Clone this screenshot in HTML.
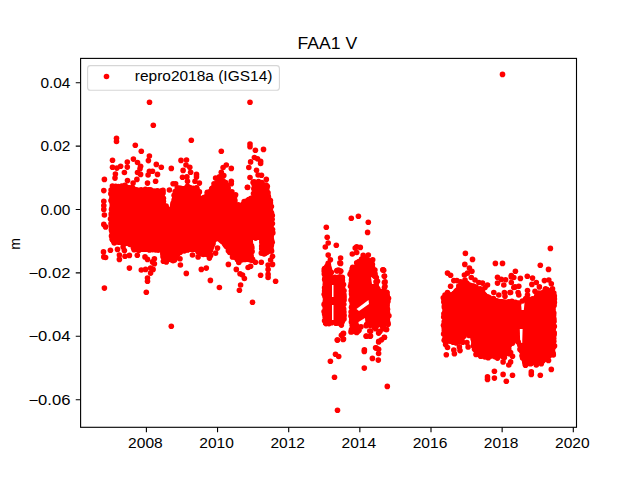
<!DOCTYPE html><html><head><meta charset="utf-8"><style>html,body{margin:0;padding:0;background:#fff;overflow:hidden}svg{display:block}</style></head><body><svg width="640" height="480" viewBox="0 0 640 480">
<rect x="0" y="0" width="640" height="480" fill="#fff"/>
<g fill="#ff0000">
<path d="M109.5 191 L111 185 L125 184 L140 188 L164 189 L166 204 L170 207 L173 193 L177 186 L199 186 L201 196 L205 194 L210 188 L213 183 L221 177 L230 184 L230 191 L236 196 L237.5 203 L241 204 L242.5 200 L252.5 195 L252 185 L255 180 L262 181 L267 184 L268 188 L271 196 L273.5 212 L274 245 L273 252 L266 256 L262 256 L259 240 L253 240 L254 262 L236 262 L217 239 L211 257 L200 256 L195 252 L182 252 L176 262 L162 262 L160 252 L134 252 L130 246 L112 244 L109.5 240 Z"/>
<path d="M322.5 268 L325 264 L331 264 L333 276 L340 274 L345 277 L345.5 300 L345 322 L341 326 L334 324 L330 325 L323 325 Z"/>
<path d="M349 272 L352 266 L356 264 L360 258 L366 256 L372 260 L375 266 L377 272 L379 287 L381 289 L389.5 291 L390 325 L382 327 L364 327 L358 333 L350 333 Z"/>
<path d="M442.5 296 L452 292 L459 284 L466 281 L472 283 L476 285 L484 290 L489 296 L500 299 L521 301 L524 297 L531 298 L540 292 L548 287 L555.6 292 L555.6 344 L555 355 L545 362 L530 366 L523 366 L519 350 L516 340 L512 344 L510 355 L500 358 L485 359 L475 356 L472.5 348 L470 337 L466 336 L463 344 L450 344 L442.5 342 Z"/>
</g>
<g fill="#fff">
<path d="M332 285 L333.5 285 L333.5 297 L332 297 Z"/>
<path d="M332 305 L333.5 305 L333.5 320 L332 320 Z"/>
<path d="M356.5 309 L368.5 300 L369 304 L359 311 Z"/>
<path d="M371 277 L375 279 L375.5 284 L372 284 Z"/>
<path d="M358.5 322 L365 318 L366 331 L358.5 333 Z"/>
<path d="M520.8 300 L524.8 300 L523.8 310 L521.6 310 Z"/>
<path d="M519.8 329 L522.6 329 L522.2 343 L520.2 343 Z"/>
</g>
<g fill="#ff0000">
<circle cx="111.1" cy="190.1" r="2.8"/>
<circle cx="112.4" cy="186.0" r="2.8"/>
<circle cx="115.7" cy="186.4" r="2.8"/>
<circle cx="118.3" cy="186.5" r="2.8"/>
<circle cx="121.7" cy="186.1" r="2.8"/>
<circle cx="124.9" cy="185.2" r="2.8"/>
<circle cx="129.0" cy="187.8" r="2.8"/>
<circle cx="132.4" cy="187.5" r="2.8"/>
<circle cx="136.9" cy="190.2" r="2.8"/>
<circle cx="141.1" cy="189.8" r="2.8"/>
<circle cx="145.4" cy="189.3" r="2.8"/>
<circle cx="148.6" cy="189.9" r="2.8"/>
<circle cx="150.5" cy="189.7" r="2.8"/>
<circle cx="154.2" cy="191.2" r="2.8"/>
<circle cx="157.4" cy="190.9" r="2.8"/>
<circle cx="161.8" cy="190.7" r="2.8"/>
<circle cx="163.0" cy="190.4" r="2.8"/>
<circle cx="163.1" cy="193.1" r="2.8"/>
<circle cx="163.4" cy="198.3" r="2.8"/>
<circle cx="163.4" cy="201.2" r="2.8"/>
<circle cx="166.1" cy="206.1" r="2.8"/>
<circle cx="172.7" cy="205.8" r="2.8"/>
<circle cx="173.0" cy="203.4" r="2.8"/>
<circle cx="174.4" cy="199.5" r="2.8"/>
<circle cx="174.1" cy="195.3" r="2.8"/>
<circle cx="175.2" cy="191.6" r="2.8"/>
<circle cx="177.7" cy="189.9" r="2.8"/>
<circle cx="177.3" cy="188.0" r="2.8"/>
<circle cx="180.8" cy="188.3" r="2.8"/>
<circle cx="186.0" cy="188.1" r="2.8"/>
<circle cx="189.9" cy="187.6" r="2.8"/>
<circle cx="193.2" cy="188.2" r="2.8"/>
<circle cx="196.6" cy="187.9" r="2.8"/>
<circle cx="196.5" cy="188.2" r="2.8"/>
<circle cx="197.6" cy="190.7" r="2.8"/>
<circle cx="198.0" cy="193.3" r="2.8"/>
<circle cx="203.9" cy="197.9" r="2.8"/>
<circle cx="207.4" cy="193.5" r="2.8"/>
<circle cx="209.9" cy="191.8" r="2.8"/>
<circle cx="211.7" cy="188.9" r="2.8"/>
<circle cx="214.0" cy="183.8" r="2.8"/>
<circle cx="217.3" cy="183.0" r="2.8"/>
<circle cx="219.4" cy="180.0" r="2.8"/>
<circle cx="220.0" cy="179.7" r="2.8"/>
<circle cx="223.0" cy="180.9" r="2.8"/>
<circle cx="226.3" cy="184.6" r="2.8"/>
<circle cx="227.3" cy="185.7" r="2.8"/>
<circle cx="228.2" cy="188.1" r="2.8"/>
<circle cx="228.9" cy="193.7" r="2.8"/>
<circle cx="233.9" cy="195.9" r="2.8"/>
<circle cx="234.6" cy="196.7" r="2.8"/>
<circle cx="234.9" cy="200.4" r="2.8"/>
<circle cx="238.3" cy="204.8" r="2.8"/>
<circle cx="242.7" cy="204.6" r="2.8"/>
<circle cx="244.2" cy="201.5" r="2.8"/>
<circle cx="248.8" cy="199.5" r="2.8"/>
<circle cx="251.2" cy="198.2" r="2.8"/>
<circle cx="253.5" cy="193.6" r="2.8"/>
<circle cx="254.8" cy="189.7" r="2.8"/>
<circle cx="254.7" cy="186.5" r="2.8"/>
<circle cx="254.2" cy="184.7" r="2.8"/>
<circle cx="254.9" cy="182.3" r="2.8"/>
<circle cx="258.5" cy="181.6" r="2.8"/>
<circle cx="261.9" cy="182.5" r="2.8"/>
<circle cx="266.1" cy="185.1" r="2.8"/>
<circle cx="266.8" cy="188.5" r="2.8"/>
<circle cx="268.0" cy="192.8" r="2.8"/>
<circle cx="268.3" cy="196.5" r="2.8"/>
<circle cx="270.4" cy="200.6" r="2.8"/>
<circle cx="270.4" cy="203.1" r="2.8"/>
<circle cx="271.4" cy="206.5" r="2.8"/>
<circle cx="270.3" cy="210.9" r="2.8"/>
<circle cx="271.5" cy="213.0" r="2.8"/>
<circle cx="272.3" cy="215.5" r="2.8"/>
<circle cx="272.1" cy="219.3" r="2.8"/>
<circle cx="272.4" cy="223.6" r="2.8"/>
<circle cx="270.8" cy="225.3" r="2.8"/>
<circle cx="272.5" cy="229.6" r="2.8"/>
<circle cx="272.8" cy="232.9" r="2.8"/>
<circle cx="270.9" cy="236.2" r="2.8"/>
<circle cx="271.5" cy="240.1" r="2.8"/>
<circle cx="272.2" cy="242.2" r="2.8"/>
<circle cx="271.4" cy="245.0" r="2.8"/>
<circle cx="270.8" cy="249.3" r="2.8"/>
<circle cx="271.6" cy="251.1" r="2.8"/>
<circle cx="266.3" cy="252.4" r="2.8"/>
<circle cx="264.0" cy="253.4" r="2.8"/>
<circle cx="264.1" cy="254.0" r="2.8"/>
<circle cx="263.3" cy="252.0" r="2.8"/>
<circle cx="261.7" cy="248.7" r="2.8"/>
<circle cx="261.7" cy="246.1" r="2.8"/>
<circle cx="261.9" cy="242.3" r="2.8"/>
<circle cx="255.6" cy="238.1" r="2.8"/>
<circle cx="250.1" cy="242.2" r="2.8"/>
<circle cx="251.5" cy="245.8" r="2.8"/>
<circle cx="251.9" cy="247.9" r="2.8"/>
<circle cx="252.1" cy="251.5" r="2.8"/>
<circle cx="250.9" cy="256.2" r="2.8"/>
<circle cx="252.0" cy="260.3" r="2.8"/>
<circle cx="252.6" cy="259.4" r="2.8"/>
<circle cx="250.2" cy="259.7" r="2.8"/>
<circle cx="244.8" cy="259.4" r="2.8"/>
<circle cx="241.6" cy="260.0" r="2.8"/>
<circle cx="239.2" cy="259.4" r="2.8"/>
<circle cx="237.6" cy="259.8" r="2.8"/>
<circle cx="234.0" cy="256.8" r="2.8"/>
<circle cx="233.5" cy="254.4" r="2.8"/>
<circle cx="229.8" cy="252.4" r="2.8"/>
<circle cx="228.4" cy="250.8" r="2.8"/>
<circle cx="226.3" cy="246.2" r="2.8"/>
<circle cx="225.2" cy="244.8" r="2.8"/>
<circle cx="221.8" cy="241.1" r="2.8"/>
<circle cx="220.3" cy="239.7" r="2.8"/>
<circle cx="215.9" cy="239.0" r="2.8"/>
<circle cx="212.9" cy="244.0" r="2.8"/>
<circle cx="211.5" cy="246.4" r="2.8"/>
<circle cx="210.5" cy="249.9" r="2.8"/>
<circle cx="210.3" cy="254.7" r="2.8"/>
<circle cx="210.6" cy="255.4" r="2.8"/>
<circle cx="207.0" cy="254.5" r="2.8"/>
<circle cx="203.3" cy="254.5" r="2.8"/>
<circle cx="201.6" cy="253.6" r="2.8"/>
<circle cx="198.2" cy="252.1" r="2.8"/>
<circle cx="193.9" cy="249.2" r="2.8"/>
<circle cx="190.9" cy="249.2" r="2.8"/>
<circle cx="187.5" cy="249.9" r="2.8"/>
<circle cx="184.2" cy="251.0" r="2.8"/>
<circle cx="180.3" cy="252.2" r="2.8"/>
<circle cx="177.8" cy="254.0" r="2.8"/>
<circle cx="176.1" cy="258.0" r="2.8"/>
<circle cx="174.5" cy="259.9" r="2.8"/>
<circle cx="171.8" cy="260.0" r="2.8"/>
<circle cx="167.8" cy="259.4" r="2.8"/>
<circle cx="165.3" cy="259.9" r="2.8"/>
<circle cx="163.4" cy="261.2" r="2.8"/>
<circle cx="163.0" cy="256.7" r="2.8"/>
<circle cx="162.9" cy="253.7" r="2.8"/>
<circle cx="158.2" cy="250.1" r="2.8"/>
<circle cx="155.6" cy="250.0" r="2.8"/>
<circle cx="152.5" cy="249.6" r="2.8"/>
<circle cx="149.4" cy="249.9" r="2.8"/>
<circle cx="146.1" cy="249.1" r="2.8"/>
<circle cx="142.4" cy="249.2" r="2.8"/>
<circle cx="138.7" cy="250.5" r="2.8"/>
<circle cx="136.2" cy="249.1" r="2.8"/>
<circle cx="134.1" cy="249.8" r="2.8"/>
<circle cx="133.4" cy="247.7" r="2.8"/>
<circle cx="130.0" cy="244.5" r="2.8"/>
<circle cx="126.5" cy="243.3" r="2.8"/>
<circle cx="121.4" cy="242.2" r="2.8"/>
<circle cx="119.1" cy="242.3" r="2.8"/>
<circle cx="114.3" cy="243.0" r="2.8"/>
<circle cx="113.2" cy="240.3" r="2.8"/>
<circle cx="112.4" cy="239.6" r="2.8"/>
<circle cx="111.5" cy="236.0" r="2.8"/>
<circle cx="112.2" cy="231.5" r="2.8"/>
<circle cx="111.4" cy="229.9" r="2.8"/>
<circle cx="111.2" cy="225.9" r="2.8"/>
<circle cx="111.1" cy="223.3" r="2.8"/>
<circle cx="110.5" cy="219.0" r="2.8"/>
<circle cx="111.4" cy="216.0" r="2.8"/>
<circle cx="111.2" cy="213.8" r="2.8"/>
<circle cx="111.5" cy="209.4" r="2.8"/>
<circle cx="112.5" cy="207.2" r="2.8"/>
<circle cx="112.4" cy="202.5" r="2.8"/>
<circle cx="111.0" cy="200.6" r="2.8"/>
<circle cx="112.1" cy="197.5" r="2.8"/>
<circle cx="110.8" cy="193.7" r="2.8"/>
<circle cx="325.5" cy="268.5" r="2.8"/>
<circle cx="327.9" cy="265.5" r="2.8"/>
<circle cx="328.3" cy="264.8" r="2.8"/>
<circle cx="329.5" cy="269.8" r="2.8"/>
<circle cx="331.3" cy="272.4" r="2.8"/>
<circle cx="335.0" cy="277.4" r="2.8"/>
<circle cx="337.4" cy="277.7" r="2.8"/>
<circle cx="340.6" cy="277.4" r="2.8"/>
<circle cx="342.3" cy="277.2" r="2.8"/>
<circle cx="342.3" cy="280.5" r="2.8"/>
<circle cx="343.5" cy="284.5" r="2.8"/>
<circle cx="342.4" cy="288.0" r="2.8"/>
<circle cx="344.0" cy="290.7" r="2.8"/>
<circle cx="343.9" cy="294.5" r="2.8"/>
<circle cx="344.1" cy="297.0" r="2.8"/>
<circle cx="344.1" cy="300.1" r="2.8"/>
<circle cx="343.8" cy="304.3" r="2.8"/>
<circle cx="343.7" cy="309.0" r="2.8"/>
<circle cx="343.9" cy="312.1" r="2.8"/>
<circle cx="344.1" cy="315.4" r="2.8"/>
<circle cx="344.0" cy="318.9" r="2.8"/>
<circle cx="341.8" cy="322.3" r="2.8"/>
<circle cx="341.1" cy="324.0" r="2.8"/>
<circle cx="335.9" cy="323.3" r="2.8"/>
<circle cx="331.6" cy="322.7" r="2.8"/>
<circle cx="329.0" cy="322.3" r="2.8"/>
<circle cx="325.7" cy="323.0" r="2.8"/>
<circle cx="326.0" cy="323.6" r="2.8"/>
<circle cx="325.6" cy="320.9" r="2.8"/>
<circle cx="325.2" cy="316.9" r="2.8"/>
<circle cx="324.6" cy="314.1" r="2.8"/>
<circle cx="324.1" cy="311.5" r="2.8"/>
<circle cx="325.3" cy="308.1" r="2.8"/>
<circle cx="324.1" cy="304.4" r="2.8"/>
<circle cx="325.5" cy="301.3" r="2.8"/>
<circle cx="325.1" cy="296.4" r="2.8"/>
<circle cx="324.2" cy="294.2" r="2.8"/>
<circle cx="324.6" cy="290.9" r="2.8"/>
<circle cx="324.6" cy="287.8" r="2.8"/>
<circle cx="325.6" cy="284.2" r="2.8"/>
<circle cx="324.7" cy="279.4" r="2.8"/>
<circle cx="325.5" cy="277.5" r="2.8"/>
<circle cx="324.3" cy="274.1" r="2.8"/>
<circle cx="324.3" cy="271.3" r="2.8"/>
<circle cx="351.2" cy="272.0" r="2.8"/>
<circle cx="352.5" cy="269.5" r="2.8"/>
<circle cx="352.7" cy="267.4" r="2.8"/>
<circle cx="357.6" cy="264.8" r="2.8"/>
<circle cx="358.9" cy="261.5" r="2.8"/>
<circle cx="361.6" cy="259.0" r="2.8"/>
<circle cx="365.9" cy="258.4" r="2.8"/>
<circle cx="369.1" cy="260.8" r="2.8"/>
<circle cx="370.2" cy="262.5" r="2.8"/>
<circle cx="372.4" cy="264.4" r="2.8"/>
<circle cx="374.9" cy="270.0" r="2.8"/>
<circle cx="375.0" cy="273.9" r="2.8"/>
<circle cx="374.9" cy="276.2" r="2.8"/>
<circle cx="376.0" cy="281.8" r="2.8"/>
<circle cx="376.1" cy="285.2" r="2.8"/>
<circle cx="377.7" cy="288.6" r="2.8"/>
<circle cx="381.7" cy="291.9" r="2.8"/>
<circle cx="386.7" cy="293.1" r="2.8"/>
<circle cx="386.7" cy="292.2" r="2.8"/>
<circle cx="387.2" cy="295.8" r="2.8"/>
<circle cx="388.5" cy="298.3" r="2.8"/>
<circle cx="387.9" cy="301.5" r="2.8"/>
<circle cx="387.0" cy="304.9" r="2.8"/>
<circle cx="387.5" cy="309.2" r="2.8"/>
<circle cx="387.5" cy="312.7" r="2.8"/>
<circle cx="388.9" cy="315.8" r="2.8"/>
<circle cx="387.4" cy="319.9" r="2.8"/>
<circle cx="387.9" cy="322.7" r="2.8"/>
<circle cx="388.1" cy="324.3" r="2.8"/>
<circle cx="383.9" cy="325.0" r="2.8"/>
<circle cx="381.8" cy="325.5" r="2.8"/>
<circle cx="376.8" cy="325.6" r="2.8"/>
<circle cx="373.2" cy="324.0" r="2.8"/>
<circle cx="370.1" cy="325.2" r="2.8"/>
<circle cx="366.6" cy="324.6" r="2.8"/>
<circle cx="361.0" cy="326.8" r="2.8"/>
<circle cx="359.0" cy="330.3" r="2.8"/>
<circle cx="357.6" cy="331.5" r="2.8"/>
<circle cx="352.2" cy="331.4" r="2.8"/>
<circle cx="351.0" cy="331.9" r="2.8"/>
<circle cx="351.5" cy="329.6" r="2.8"/>
<circle cx="352.3" cy="325.2" r="2.8"/>
<circle cx="351.4" cy="322.0" r="2.8"/>
<circle cx="351.7" cy="319.1" r="2.8"/>
<circle cx="351.0" cy="316.0" r="2.8"/>
<circle cx="351.1" cy="312.0" r="2.8"/>
<circle cx="352.5" cy="308.6" r="2.8"/>
<circle cx="351.5" cy="307.3" r="2.8"/>
<circle cx="352.4" cy="302.5" r="2.8"/>
<circle cx="351.0" cy="300.0" r="2.8"/>
<circle cx="352.3" cy="297.2" r="2.8"/>
<circle cx="351.5" cy="294.0" r="2.8"/>
<circle cx="351.4" cy="291.0" r="2.8"/>
<circle cx="350.5" cy="286.2" r="2.8"/>
<circle cx="351.2" cy="283.2" r="2.8"/>
<circle cx="351.5" cy="279.9" r="2.8"/>
<circle cx="351.9" cy="277.9" r="2.8"/>
<circle cx="350.1" cy="274.3" r="2.8"/>
<circle cx="443.3" cy="297.8" r="2.8"/>
<circle cx="447.1" cy="295.8" r="2.8"/>
<circle cx="449.8" cy="294.8" r="2.8"/>
<circle cx="454.5" cy="293.3" r="2.8"/>
<circle cx="456.2" cy="291.0" r="2.8"/>
<circle cx="458.8" cy="286.1" r="2.8"/>
<circle cx="461.9" cy="285.4" r="2.8"/>
<circle cx="465.0" cy="283.1" r="2.8"/>
<circle cx="466.8" cy="283.1" r="2.8"/>
<circle cx="473.4" cy="286.1" r="2.8"/>
<circle cx="475.9" cy="287.1" r="2.8"/>
<circle cx="480.1" cy="288.8" r="2.8"/>
<circle cx="482.1" cy="291.9" r="2.8"/>
<circle cx="484.7" cy="295.4" r="2.8"/>
<circle cx="489.1" cy="297.6" r="2.8"/>
<circle cx="493.4" cy="298.6" r="2.8"/>
<circle cx="496.4" cy="301.0" r="2.8"/>
<circle cx="501.6" cy="301.8" r="2.8"/>
<circle cx="504.6" cy="302.3" r="2.8"/>
<circle cx="508.8" cy="301.9" r="2.8"/>
<circle cx="511.9" cy="301.2" r="2.8"/>
<circle cx="515.4" cy="302.4" r="2.8"/>
<circle cx="518.9" cy="303.1" r="2.8"/>
<circle cx="522.4" cy="301.0" r="2.8"/>
<circle cx="525.8" cy="298.5" r="2.8"/>
<circle cx="528.3" cy="299.3" r="2.8"/>
<circle cx="532.9" cy="299.7" r="2.8"/>
<circle cx="536.6" cy="296.1" r="2.8"/>
<circle cx="539.1" cy="294.5" r="2.8"/>
<circle cx="542.3" cy="292.7" r="2.8"/>
<circle cx="545.1" cy="290.4" r="2.8"/>
<circle cx="546.9" cy="289.7" r="2.8"/>
<circle cx="552.1" cy="291.4" r="2.8"/>
<circle cx="552.6" cy="293.8" r="2.8"/>
<circle cx="554.3" cy="296.1" r="2.8"/>
<circle cx="554.4" cy="298.9" r="2.8"/>
<circle cx="554.4" cy="302.4" r="2.8"/>
<circle cx="554.1" cy="305.5" r="2.8"/>
<circle cx="552.8" cy="309.4" r="2.8"/>
<circle cx="553.8" cy="313.0" r="2.8"/>
<circle cx="553.6" cy="315.6" r="2.8"/>
<circle cx="553.9" cy="318.7" r="2.8"/>
<circle cx="554.0" cy="321.4" r="2.8"/>
<circle cx="554.3" cy="326.4" r="2.8"/>
<circle cx="553.3" cy="328.7" r="2.8"/>
<circle cx="554.2" cy="332.7" r="2.8"/>
<circle cx="554.1" cy="334.8" r="2.8"/>
<circle cx="553.7" cy="338.3" r="2.8"/>
<circle cx="552.9" cy="342.6" r="2.8"/>
<circle cx="554.5" cy="345.9" r="2.8"/>
<circle cx="553.0" cy="347.6" r="2.8"/>
<circle cx="553.1" cy="353.2" r="2.8"/>
<circle cx="553.3" cy="355.0" r="2.8"/>
<circle cx="549.2" cy="355.5" r="2.8"/>
<circle cx="545.1" cy="358.6" r="2.8"/>
<circle cx="542.4" cy="361.1" r="2.8"/>
<circle cx="540.7" cy="361.8" r="2.8"/>
<circle cx="535.7" cy="362.0" r="2.8"/>
<circle cx="531.0" cy="363.2" r="2.8"/>
<circle cx="528.6" cy="363.5" r="2.8"/>
<circle cx="525.5" cy="363.9" r="2.8"/>
<circle cx="525.5" cy="365.3" r="2.8"/>
<circle cx="524.8" cy="361.7" r="2.8"/>
<circle cx="522.6" cy="358.0" r="2.8"/>
<circle cx="522.0" cy="355.8" r="2.8"/>
<circle cx="521.8" cy="351.4" r="2.8"/>
<circle cx="520.0" cy="349.4" r="2.8"/>
<circle cx="519.8" cy="345.0" r="2.8"/>
<circle cx="518.2" cy="342.1" r="2.8"/>
<circle cx="513.8" cy="340.7" r="2.8"/>
<circle cx="510.0" cy="344.3" r="2.8"/>
<circle cx="508.7" cy="349.4" r="2.8"/>
<circle cx="508.4" cy="352.9" r="2.8"/>
<circle cx="509.1" cy="353.7" r="2.8"/>
<circle cx="504.1" cy="354.3" r="2.8"/>
<circle cx="502.4" cy="356.2" r="2.8"/>
<circle cx="498.7" cy="355.7" r="2.8"/>
<circle cx="495.2" cy="356.8" r="2.8"/>
<circle cx="490.8" cy="355.8" r="2.8"/>
<circle cx="488.2" cy="357.7" r="2.8"/>
<circle cx="484.9" cy="357.0" r="2.8"/>
<circle cx="480.7" cy="356.3" r="2.8"/>
<circle cx="477.5" cy="354.1" r="2.8"/>
<circle cx="476.0" cy="354.4" r="2.8"/>
<circle cx="474.6" cy="349.2" r="2.8"/>
<circle cx="473.5" cy="345.9" r="2.8"/>
<circle cx="474.0" cy="343.3" r="2.8"/>
<circle cx="473.5" cy="339.4" r="2.8"/>
<circle cx="469.1" cy="335.4" r="2.8"/>
<circle cx="464.1" cy="335.9" r="2.8"/>
<circle cx="461.2" cy="340.6" r="2.8"/>
<circle cx="462.7" cy="342.2" r="2.8"/>
<circle cx="459.3" cy="341.1" r="2.8"/>
<circle cx="456.2" cy="342.9" r="2.8"/>
<circle cx="453.1" cy="342.2" r="2.8"/>
<circle cx="448.7" cy="340.8" r="2.8"/>
<circle cx="445.4" cy="339.7" r="2.8"/>
<circle cx="444.2" cy="340.2" r="2.8"/>
<circle cx="445.4" cy="338.3" r="2.8"/>
<circle cx="443.6" cy="334.0" r="2.8"/>
<circle cx="444.3" cy="330.8" r="2.8"/>
<circle cx="444.2" cy="328.1" r="2.8"/>
<circle cx="443.5" cy="325.2" r="2.8"/>
<circle cx="444.2" cy="321.7" r="2.8"/>
<circle cx="443.7" cy="317.1" r="2.8"/>
<circle cx="443.9" cy="313.8" r="2.8"/>
<circle cx="445.1" cy="311.7" r="2.8"/>
<circle cx="444.4" cy="307.5" r="2.8"/>
<circle cx="444.4" cy="305.8" r="2.8"/>
<circle cx="445.3" cy="301.8" r="2.8"/>
<circle cx="444.2" cy="298.9" r="2.8"/>
</g>
<g fill="#ff0000">
<circle cx="149.5" cy="102.3" r="2.8"/>
<circle cx="250.0" cy="102.3" r="2.8"/>
<circle cx="153.3" cy="125.3" r="2.8"/>
<circle cx="116.5" cy="138.3" r="2.8"/>
<circle cx="116.5" cy="141.5" r="2.8"/>
<circle cx="191.3" cy="140.3" r="2.8"/>
<circle cx="135.3" cy="145.3" r="2.8"/>
<circle cx="141.3" cy="151.3" r="2.8"/>
<circle cx="221.3" cy="151.3" r="2.8"/>
<circle cx="250.0" cy="144.0" r="2.8"/>
<circle cx="250.0" cy="146.8" r="2.8"/>
<circle cx="149.4" cy="156.0" r="2.8"/>
<circle cx="148.4" cy="160.6" r="2.8"/>
<circle cx="112.5" cy="160.3" r="2.8"/>
<circle cx="127.3" cy="162.1" r="2.8"/>
<circle cx="133.4" cy="159.1" r="2.8"/>
<circle cx="137.5" cy="162.5" r="2.8"/>
<circle cx="156.3" cy="164.4" r="2.8"/>
<circle cx="161.3" cy="167.3" r="2.8"/>
<circle cx="171.3" cy="168.4" r="2.8"/>
<circle cx="112.5" cy="167.3" r="2.8"/>
<circle cx="116.9" cy="168.1" r="2.8"/>
<circle cx="120.6" cy="166.3" r="2.8"/>
<circle cx="127.3" cy="167.1" r="2.8"/>
<circle cx="140.6" cy="166.3" r="2.8"/>
<circle cx="140.0" cy="168.8" r="2.8"/>
<circle cx="124.4" cy="172.5" r="2.8"/>
<circle cx="115.4" cy="174.0" r="2.8"/>
<circle cx="137.5" cy="172.5" r="2.8"/>
<circle cx="140.6" cy="174.4" r="2.8"/>
<circle cx="149.4" cy="171.3" r="2.8"/>
<circle cx="152.5" cy="171.3" r="2.8"/>
<circle cx="148.1" cy="175.0" r="2.8"/>
<circle cx="157.5" cy="174.4" r="2.8"/>
<circle cx="104.4" cy="179.4" r="2.8"/>
<circle cx="115.0" cy="178.1" r="2.8"/>
<circle cx="136.9" cy="179.4" r="2.8"/>
<circle cx="127.5" cy="180.6" r="2.8"/>
<circle cx="155.6" cy="181.3" r="2.8"/>
<circle cx="133.1" cy="183.1" r="2.8"/>
<circle cx="147.5" cy="183.1" r="2.8"/>
<circle cx="173.1" cy="183.8" r="2.8"/>
<circle cx="169.4" cy="190.0" r="2.8"/>
<circle cx="103.8" cy="190.6" r="2.8"/>
<circle cx="255.4" cy="150.3" r="2.8"/>
<circle cx="181.0" cy="160.4" r="2.8"/>
<circle cx="186.5" cy="160.0" r="2.8"/>
<circle cx="186.0" cy="165.0" r="2.8"/>
<circle cx="189.8" cy="167.3" r="2.8"/>
<circle cx="183.1" cy="170.4" r="2.8"/>
<circle cx="190.6" cy="172.3" r="2.8"/>
<circle cx="196.5" cy="174.4" r="2.8"/>
<circle cx="196.5" cy="176.9" r="2.8"/>
<circle cx="182.5" cy="177.3" r="2.8"/>
<circle cx="186.9" cy="176.9" r="2.8"/>
<circle cx="187.5" cy="181.3" r="2.8"/>
<circle cx="195.0" cy="181.3" r="2.8"/>
<circle cx="199.4" cy="183.1" r="2.8"/>
<circle cx="175.6" cy="183.8" r="2.8"/>
<circle cx="187.5" cy="186.3" r="2.8"/>
<circle cx="178.8" cy="188.1" r="2.8"/>
<circle cx="190.0" cy="188.8" r="2.8"/>
<circle cx="195.0" cy="191.3" r="2.8"/>
<circle cx="199.4" cy="191.9" r="2.8"/>
<circle cx="182.5" cy="191.9" r="2.8"/>
<circle cx="207.3" cy="192.3" r="2.8"/>
<circle cx="226.3" cy="165.0" r="2.8"/>
<circle cx="223.1" cy="167.5" r="2.8"/>
<circle cx="231.3" cy="168.4" r="2.8"/>
<circle cx="221.3" cy="172.3" r="2.8"/>
<circle cx="223.8" cy="175.6" r="2.8"/>
<circle cx="215.6" cy="178.1" r="2.8"/>
<circle cx="219.4" cy="176.9" r="2.8"/>
<circle cx="218.1" cy="182.5" r="2.8"/>
<circle cx="225.6" cy="182.5" r="2.8"/>
<circle cx="231.3" cy="181.3" r="2.8"/>
<circle cx="231.3" cy="183.8" r="2.8"/>
<circle cx="212.5" cy="188.1" r="2.8"/>
<circle cx="218.1" cy="187.5" r="2.8"/>
<circle cx="222.5" cy="186.3" r="2.8"/>
<circle cx="227.5" cy="190.0" r="2.8"/>
<circle cx="231.9" cy="191.9" r="2.8"/>
<circle cx="248.8" cy="167.5" r="2.8"/>
<circle cx="250.6" cy="161.9" r="2.8"/>
<circle cx="254.4" cy="157.5" r="2.8"/>
<circle cx="250.0" cy="177.5" r="2.8"/>
<circle cx="253.1" cy="182.5" r="2.8"/>
<circle cx="247.5" cy="187.3" r="2.8"/>
<circle cx="253.8" cy="188.8" r="2.8"/>
<circle cx="263.5" cy="149.4" r="2.8"/>
<circle cx="257.5" cy="158.8" r="2.8"/>
<circle cx="260.6" cy="161.3" r="2.8"/>
<circle cx="260.6" cy="163.5" r="2.8"/>
<circle cx="256.5" cy="170.3" r="2.8"/>
<circle cx="258.1" cy="175.0" r="2.8"/>
<circle cx="261.5" cy="175.3" r="2.8"/>
<circle cx="266.3" cy="179.4" r="2.8"/>
<circle cx="253.8" cy="181.9" r="2.8"/>
<circle cx="258.1" cy="182.5" r="2.8"/>
<circle cx="267.3" cy="186.3" r="2.8"/>
<circle cx="260.0" cy="190.0" r="2.8"/>
<circle cx="266.9" cy="191.9" r="2.8"/>
<circle cx="235.6" cy="194.8" r="2.8"/>
<circle cx="228.4" cy="264.4" r="2.8"/>
<circle cx="236.3" cy="269.4" r="2.8"/>
<circle cx="240.0" cy="273.8" r="2.8"/>
<circle cx="242.5" cy="275.0" r="2.8"/>
<circle cx="244.4" cy="278.5" r="2.8"/>
<circle cx="248.1" cy="267.5" r="2.8"/>
<circle cx="250.6" cy="266.3" r="2.8"/>
<circle cx="255.4" cy="262.3" r="2.8"/>
<circle cx="261.3" cy="262.3" r="2.8"/>
<circle cx="260.6" cy="275.3" r="2.8"/>
<circle cx="268.1" cy="265.0" r="2.8"/>
<circle cx="272.5" cy="264.4" r="2.8"/>
<circle cx="268.1" cy="269.4" r="2.8"/>
<circle cx="268.1" cy="274.4" r="2.8"/>
<circle cx="268.1" cy="277.5" r="2.8"/>
<circle cx="275.6" cy="281.3" r="2.8"/>
<circle cx="219.4" cy="287.5" r="2.8"/>
<circle cx="240.6" cy="285.0" r="2.8"/>
<circle cx="239.4" cy="290.3" r="2.8"/>
<circle cx="252.5" cy="302.3" r="2.8"/>
<circle cx="261.3" cy="253.1" r="2.8"/>
<circle cx="272.5" cy="256.3" r="2.8"/>
<circle cx="270.6" cy="260.0" r="2.8"/>
<circle cx="217.5" cy="248.1" r="2.8"/>
<circle cx="215.6" cy="253.1" r="2.8"/>
<circle cx="232.5" cy="256.9" r="2.8"/>
<circle cx="238.8" cy="262.5" r="2.8"/>
<circle cx="187.5" cy="249.4" r="2.8"/>
<circle cx="192.5" cy="255.0" r="2.8"/>
<circle cx="198.1" cy="256.9" r="2.8"/>
<circle cx="209.4" cy="258.1" r="2.8"/>
<circle cx="145.0" cy="256.9" r="2.8"/>
<circle cx="147.5" cy="259.4" r="2.8"/>
<circle cx="154.4" cy="258.8" r="2.8"/>
<circle cx="152.5" cy="261.9" r="2.8"/>
<circle cx="154.4" cy="263.8" r="2.8"/>
<circle cx="166.3" cy="261.9" r="2.8"/>
<circle cx="173.1" cy="260.6" r="2.8"/>
<circle cx="180.0" cy="258.8" r="2.8"/>
<circle cx="180.4" cy="265.0" r="2.8"/>
<circle cx="141.3" cy="270.0" r="2.8"/>
<circle cx="145.6" cy="269.4" r="2.8"/>
<circle cx="150.6" cy="268.1" r="2.8"/>
<circle cx="153.1" cy="269.4" r="2.8"/>
<circle cx="150.6" cy="273.1" r="2.8"/>
<circle cx="186.3" cy="273.4" r="2.8"/>
<circle cx="201.3" cy="269.4" r="2.8"/>
<circle cx="206.3" cy="268.1" r="2.8"/>
<circle cx="147.5" cy="278.1" r="2.8"/>
<circle cx="147.5" cy="281.3" r="2.8"/>
<circle cx="210.4" cy="280.4" r="2.8"/>
<circle cx="146.3" cy="292.3" r="2.8"/>
<circle cx="103.5" cy="251.9" r="2.8"/>
<circle cx="103.8" cy="256.9" r="2.8"/>
<circle cx="105.6" cy="257.5" r="2.8"/>
<circle cx="110.4" cy="250.3" r="2.8"/>
<circle cx="117.5" cy="249.4" r="2.8"/>
<circle cx="123.1" cy="246.9" r="2.8"/>
<circle cx="124.4" cy="250.6" r="2.8"/>
<circle cx="119.4" cy="255.0" r="2.8"/>
<circle cx="119.4" cy="259.4" r="2.8"/>
<circle cx="125.0" cy="256.3" r="2.8"/>
<circle cx="129.4" cy="255.4" r="2.8"/>
<circle cx="137.3" cy="255.3" r="2.8"/>
<circle cx="129.4" cy="268.1" r="2.8"/>
<circle cx="104.4" cy="288.1" r="2.8"/>
<circle cx="351.3" cy="218.2" r="2.8"/>
<circle cx="358.4" cy="216.3" r="2.8"/>
<circle cx="368.3" cy="222.3" r="2.8"/>
<circle cx="326.3" cy="227.3" r="2.8"/>
<circle cx="367.6" cy="232.4" r="2.8"/>
<circle cx="327.2" cy="237.2" r="2.8"/>
<circle cx="328.2" cy="243.0" r="2.8"/>
<circle cx="325.3" cy="247.0" r="2.8"/>
<circle cx="336.3" cy="245.2" r="2.8"/>
<circle cx="356.7" cy="246.7" r="2.8"/>
<circle cx="360.3" cy="247.4" r="2.8"/>
<circle cx="355.2" cy="248.1" r="2.8"/>
<circle cx="352.3" cy="254.0" r="2.8"/>
<circle cx="356.7" cy="252.5" r="2.8"/>
<circle cx="328.2" cy="255.1" r="2.8"/>
<circle cx="330.4" cy="259.8" r="2.8"/>
<circle cx="328.2" cy="263.4" r="2.8"/>
<circle cx="340.6" cy="258.0" r="2.8"/>
<circle cx="340.6" cy="263.4" r="2.8"/>
<circle cx="363.2" cy="255.4" r="2.8"/>
<circle cx="368.3" cy="255.1" r="2.8"/>
<circle cx="372.7" cy="259.8" r="2.8"/>
<circle cx="356.7" cy="262.7" r="2.8"/>
<circle cx="362.5" cy="261.3" r="2.8"/>
<circle cx="367.6" cy="264.2" r="2.8"/>
<circle cx="324.6" cy="268.6" r="2.8"/>
<circle cx="338.4" cy="270.0" r="2.8"/>
<circle cx="352.3" cy="268.6" r="2.8"/>
<circle cx="382.9" cy="269.7" r="2.8"/>
<circle cx="339.9" cy="262.9" r="2.8"/>
<circle cx="337.0" cy="271.0" r="2.8"/>
<circle cx="340.6" cy="271.0" r="2.8"/>
<circle cx="339.2" cy="277.5" r="2.8"/>
<circle cx="383.7" cy="270.2" r="2.8"/>
<circle cx="384.4" cy="276.0" r="2.8"/>
<circle cx="385.1" cy="281.9" r="2.8"/>
<circle cx="384.4" cy="287.7" r="2.8"/>
<circle cx="324.6" cy="320.7" r="2.8"/>
<circle cx="329.0" cy="323.6" r="2.8"/>
<circle cx="337.7" cy="322.9" r="2.8"/>
<circle cx="341.4" cy="325.1" r="2.8"/>
<circle cx="342.1" cy="321.5" r="2.8"/>
<circle cx="353.8" cy="322.2" r="2.8"/>
<circle cx="356.7" cy="325.8" r="2.8"/>
<circle cx="353.8" cy="330.9" r="2.8"/>
<circle cx="356.7" cy="332.4" r="2.8"/>
<circle cx="343.5" cy="333.4" r="2.8"/>
<circle cx="341.4" cy="335.3" r="2.8"/>
<circle cx="343.5" cy="339.0" r="2.8"/>
<circle cx="337.3" cy="340.1" r="2.8"/>
<circle cx="366.2" cy="325.8" r="2.8"/>
<circle cx="366.2" cy="336.0" r="2.8"/>
<circle cx="370.5" cy="336.0" r="2.8"/>
<circle cx="369.8" cy="331.0" r="2.8"/>
<circle cx="374.2" cy="327.3" r="2.8"/>
<circle cx="378.6" cy="333.1" r="2.8"/>
<circle cx="382.9" cy="328.8" r="2.8"/>
<circle cx="386.6" cy="329.5" r="2.8"/>
<circle cx="378.6" cy="341.9" r="2.8"/>
<circle cx="381.5" cy="339.7" r="2.8"/>
<circle cx="384.4" cy="337.2" r="2.8"/>
<circle cx="375.6" cy="347.7" r="2.8"/>
<circle cx="378.6" cy="349.2" r="2.8"/>
<circle cx="378.6" cy="353.5" r="2.8"/>
<circle cx="378.3" cy="360.1" r="2.8"/>
<circle cx="364.3" cy="351.4" r="2.8"/>
<circle cx="372.4" cy="358.4" r="2.8"/>
<circle cx="335.5" cy="354.3" r="2.8"/>
<circle cx="338.7" cy="356.5" r="2.8"/>
<circle cx="330.4" cy="361.3" r="2.8"/>
<circle cx="364.3" cy="368.1" r="2.8"/>
<circle cx="334.5" cy="377.3" r="2.8"/>
<circle cx="387.3" cy="386.4" r="2.8"/>
<circle cx="337.5" cy="410.3" r="2.8"/>
<circle cx="465.4" cy="253.4" r="2.8"/>
<circle cx="472.5" cy="259.4" r="2.8"/>
<circle cx="495.4" cy="263.4" r="2.8"/>
<circle cx="502.5" cy="263.4" r="2.8"/>
<circle cx="464.8" cy="264.4" r="2.8"/>
<circle cx="469.4" cy="268.1" r="2.8"/>
<circle cx="471.9" cy="271.3" r="2.8"/>
<circle cx="447.5" cy="273.1" r="2.8"/>
<circle cx="450.6" cy="275.3" r="2.8"/>
<circle cx="464.4" cy="275.0" r="2.8"/>
<circle cx="467.5" cy="273.1" r="2.8"/>
<circle cx="453.8" cy="280.6" r="2.8"/>
<circle cx="456.9" cy="280.6" r="2.8"/>
<circle cx="471.3" cy="277.5" r="2.8"/>
<circle cx="475.0" cy="280.0" r="2.8"/>
<circle cx="478.8" cy="282.5" r="2.8"/>
<circle cx="482.5" cy="283.1" r="2.8"/>
<circle cx="487.5" cy="285.0" r="2.8"/>
<circle cx="460.6" cy="281.9" r="2.8"/>
<circle cx="465.0" cy="280.0" r="2.8"/>
<circle cx="450.6" cy="286.3" r="2.8"/>
<circle cx="497.5" cy="277.3" r="2.8"/>
<circle cx="501.3" cy="279.4" r="2.8"/>
<circle cx="505.6" cy="279.8" r="2.8"/>
<circle cx="511.3" cy="276.9" r="2.8"/>
<circle cx="515.4" cy="271.3" r="2.8"/>
<circle cx="497.5" cy="283.1" r="2.8"/>
<circle cx="503.8" cy="285.0" r="2.8"/>
<circle cx="511.3" cy="282.5" r="2.8"/>
<circle cx="493.8" cy="292.5" r="2.8"/>
<circle cx="498.8" cy="295.0" r="2.8"/>
<circle cx="504.4" cy="292.5" r="2.8"/>
<circle cx="510.0" cy="292.5" r="2.8"/>
<circle cx="505.0" cy="296.3" r="2.8"/>
<circle cx="445.0" cy="295.0" r="2.8"/>
<circle cx="447.5" cy="292.5" r="2.8"/>
<circle cx="453.8" cy="293.8" r="2.8"/>
<circle cx="443.8" cy="301.9" r="2.8"/>
<circle cx="451.3" cy="300.0" r="2.8"/>
<circle cx="472.5" cy="288.8" r="2.8"/>
<circle cx="485.0" cy="287.5" r="2.8"/>
<circle cx="482.5" cy="290.0" r="2.8"/>
<circle cx="487.5" cy="296.9" r="2.8"/>
<circle cx="513.8" cy="287.5" r="2.8"/>
<circle cx="550.4" cy="248.4" r="2.8"/>
<circle cx="540.3" cy="265.3" r="2.8"/>
<circle cx="548.5" cy="269.4" r="2.8"/>
<circle cx="511.3" cy="275.6" r="2.8"/>
<circle cx="513.8" cy="277.5" r="2.8"/>
<circle cx="520.4" cy="278.4" r="2.8"/>
<circle cx="527.3" cy="276.3" r="2.8"/>
<circle cx="532.5" cy="278.1" r="2.8"/>
<circle cx="544.4" cy="280.6" r="2.8"/>
<circle cx="548.8" cy="280.0" r="2.8"/>
<circle cx="551.3" cy="283.8" r="2.8"/>
<circle cx="531.9" cy="284.4" r="2.8"/>
<circle cx="536.3" cy="282.5" r="2.8"/>
<circle cx="539.4" cy="286.9" r="2.8"/>
<circle cx="515.0" cy="286.9" r="2.8"/>
<circle cx="518.8" cy="286.3" r="2.8"/>
<circle cx="545.6" cy="288.8" r="2.8"/>
<circle cx="552.5" cy="288.8" r="2.8"/>
<circle cx="553.8" cy="293.1" r="2.8"/>
<circle cx="527.5" cy="290.6" r="2.8"/>
<circle cx="535.0" cy="291.3" r="2.8"/>
<circle cx="538.8" cy="293.1" r="2.8"/>
<circle cx="510.6" cy="292.5" r="2.8"/>
<circle cx="518.1" cy="292.5" r="2.8"/>
<circle cx="518.8" cy="295.0" r="2.8"/>
<circle cx="527.5" cy="295.0" r="2.8"/>
<circle cx="552.5" cy="299.4" r="2.8"/>
<circle cx="547.5" cy="297.5" r="2.8"/>
<circle cx="526.9" cy="300.0" r="2.8"/>
<circle cx="532.5" cy="298.8" r="2.8"/>
<circle cx="446.3" cy="354.8" r="2.8"/>
<circle cx="445.6" cy="344.4" r="2.8"/>
<circle cx="447.5" cy="347.5" r="2.8"/>
<circle cx="454.4" cy="353.8" r="2.8"/>
<circle cx="453.8" cy="350.0" r="2.8"/>
<circle cx="460.0" cy="350.6" r="2.8"/>
<circle cx="459.4" cy="346.9" r="2.8"/>
<circle cx="468.1" cy="346.9" r="2.8"/>
<circle cx="466.9" cy="342.5" r="2.8"/>
<circle cx="479.4" cy="348.1" r="2.8"/>
<circle cx="480.6" cy="353.1" r="2.8"/>
<circle cx="484.4" cy="356.3" r="2.8"/>
<circle cx="488.8" cy="355.0" r="2.8"/>
<circle cx="496.3" cy="356.3" r="2.8"/>
<circle cx="497.5" cy="358.1" r="2.8"/>
<circle cx="503.1" cy="361.9" r="2.8"/>
<circle cx="508.8" cy="365.0" r="2.8"/>
<circle cx="510.6" cy="361.9" r="2.8"/>
<circle cx="494.4" cy="371.3" r="2.8"/>
<circle cx="487.5" cy="376.9" r="2.8"/>
<circle cx="487.5" cy="379.4" r="2.8"/>
<circle cx="494.4" cy="378.1" r="2.8"/>
<circle cx="503.1" cy="374.4" r="2.8"/>
<circle cx="506.3" cy="381.3" r="2.8"/>
<circle cx="512.5" cy="375.3" r="2.8"/>
<circle cx="531.3" cy="371.9" r="2.8"/>
<circle cx="531.3" cy="374.4" r="2.8"/>
<circle cx="540.3" cy="375.3" r="2.8"/>
<circle cx="551.3" cy="369.4" r="2.8"/>
<circle cx="548.5" cy="360.4" r="2.8"/>
<circle cx="549.8" cy="352.5" r="2.8"/>
<circle cx="530.6" cy="363.8" r="2.8"/>
<circle cx="536.3" cy="365.0" r="2.8"/>
<circle cx="541.3" cy="363.8" r="2.8"/>
<circle cx="543.1" cy="360.6" r="2.8"/>
<circle cx="526.9" cy="354.4" r="2.8"/>
<circle cx="530.0" cy="358.8" r="2.8"/>
<circle cx="535.0" cy="358.8" r="2.8"/>
<circle cx="538.8" cy="356.9" r="2.8"/>
<circle cx="520.6" cy="346.9" r="2.8"/>
<circle cx="520.6" cy="348.8" r="2.8"/>
<circle cx="512.5" cy="343.1" r="2.8"/>
<circle cx="510.6" cy="352.5" r="2.8"/>
<circle cx="512.5" cy="356.3" r="2.8"/>
<circle cx="504.4" cy="357.5" r="2.8"/>
<circle cx="502.5" cy="353.8" r="2.8"/>
<circle cx="553.8" cy="341.3" r="2.8"/>
<circle cx="553.1" cy="335.6" r="2.8"/>
<circle cx="545.0" cy="353.1" r="2.8"/>
<circle cx="547.5" cy="347.5" r="2.8"/>
<circle cx="502.5" cy="74.4" r="2.8"/>
<circle cx="171.3" cy="326.3" r="2.8"/>
<circle cx="103.8" cy="201.3" r="2.8"/>
<circle cx="103.8" cy="205.6" r="2.8"/>
<circle cx="103.8" cy="209.4" r="2.8"/>
<circle cx="104.4" cy="215.0" r="2.8"/>
<circle cx="103.8" cy="224.4" r="2.8"/>
<circle cx="105.6" cy="226.9" r="2.8"/>
<circle cx="355.0" cy="327.5" r="2.8"/>
<circle cx="356.3" cy="331.9" r="2.8"/>
<circle cx="366.3" cy="336.3" r="2.8"/>
<circle cx="370.6" cy="331.3" r="2.8"/>
<circle cx="370.0" cy="336.3" r="2.8"/>
<circle cx="375.6" cy="328.8" r="2.8"/>
<circle cx="380.0" cy="331.3" r="2.8"/>
<circle cx="386.3" cy="329.4" r="2.8"/>
<circle cx="384.4" cy="337.5" r="2.8"/>
<circle cx="378.8" cy="341.3" r="2.8"/>
<circle cx="376.3" cy="348.1" r="2.8"/>
<circle cx="343.1" cy="333.8" r="2.8"/>
<circle cx="343.1" cy="339.4" r="2.8"/>
<circle cx="337.5" cy="340.0" r="2.8"/>
<circle cx="364.4" cy="349.8" r="2.8"/>
<circle cx="383.1" cy="270.0" r="2.8"/>
<circle cx="384.4" cy="276.3" r="2.8"/>
<circle cx="384.4" cy="282.5" r="2.8"/>
<circle cx="385.0" cy="286.3" r="2.8"/>
<circle cx="336.9" cy="270.6" r="2.8"/>
<circle cx="340.6" cy="271.3" r="2.8"/>
<circle cx="324.4" cy="269.4" r="2.8"/>
<circle cx="326.9" cy="270.6" r="2.8"/>
<circle cx="328.8" cy="268.1" r="2.8"/>
<circle cx="377.5" cy="281.3" r="2.8"/>
<circle cx="376.3" cy="277.5" r="2.8"/>
<circle cx="247.5" cy="187.5" r="2.8"/>
</g>
<rect x="80.60" y="58.40" width="495.90" height="368.90" fill="none" stroke="#000" stroke-width="1.11"/>
<rect x="87.6" y="65.6" width="191.8" height="24.6" rx="2.8" ry="2.8" fill="#fff" fill-opacity="0.8" stroke="#d6d6d6" stroke-width="1.11"/>
<circle cx="106.5" cy="76.5" r="2.8" fill="#ff0000"/>
<text x="134.8" y="81.1" font-family="Liberation Sans" font-size="14" textLength="137.6" lengthAdjust="spacingAndGlyphs">repro2018a (IGS14)</text>
<path d="M146.40 427.30v4.86M217.55 427.30v4.86M288.70 427.30v4.86M359.85 427.30v4.86M431.00 427.30v4.86M502.15 427.30v4.86M573.30 427.30v4.86M80.60 82.70h-4.86M80.60 146.10h-4.86M80.60 209.50h-4.86M80.60 272.90h-4.86M80.60 336.30h-4.86M80.60 399.70h-4.86" stroke="#000" stroke-width="1.11" fill="none"/>
<text x="145.40" y="447.9" font-family="Liberation Sans" font-size="14" text-anchor="middle" textLength="34.6" lengthAdjust="spacingAndGlyphs">2008</text>
<text x="216.55" y="447.9" font-family="Liberation Sans" font-size="14" text-anchor="middle" textLength="34.6" lengthAdjust="spacingAndGlyphs">2010</text>
<text x="287.70" y="447.9" font-family="Liberation Sans" font-size="14" text-anchor="middle" textLength="34.6" lengthAdjust="spacingAndGlyphs">2012</text>
<text x="358.85" y="447.9" font-family="Liberation Sans" font-size="14" text-anchor="middle" textLength="34.6" lengthAdjust="spacingAndGlyphs">2014</text>
<text x="430.00" y="447.9" font-family="Liberation Sans" font-size="14" text-anchor="middle" textLength="34.6" lengthAdjust="spacingAndGlyphs">2016</text>
<text x="501.15" y="447.9" font-family="Liberation Sans" font-size="14" text-anchor="middle" textLength="34.6" lengthAdjust="spacingAndGlyphs">2018</text>
<text x="572.30" y="447.9" font-family="Liberation Sans" font-size="14" text-anchor="middle" textLength="34.6" lengthAdjust="spacingAndGlyphs">2020</text>
<text x="70.4" y="87.70" font-family="Liberation Sans" font-size="14" text-anchor="end" textLength="30.0" lengthAdjust="spacingAndGlyphs">0.04</text>
<text x="70.4" y="151.10" font-family="Liberation Sans" font-size="14" text-anchor="end" textLength="30.0" lengthAdjust="spacingAndGlyphs">0.02</text>
<text x="70.4" y="214.50" font-family="Liberation Sans" font-size="14" text-anchor="end" textLength="30.0" lengthAdjust="spacingAndGlyphs">0.00</text>
<text x="70.4" y="277.90" font-family="Liberation Sans" font-size="14" text-anchor="end" textLength="42.0" lengthAdjust="spacingAndGlyphs">−0.02</text>
<text x="70.4" y="341.30" font-family="Liberation Sans" font-size="14" text-anchor="end" textLength="42.0" lengthAdjust="spacingAndGlyphs">−0.04</text>
<text x="70.4" y="404.70" font-family="Liberation Sans" font-size="14" text-anchor="end" textLength="42.0" lengthAdjust="spacingAndGlyphs">−0.06</text>
<text x="297.6" y="49.2" font-family="Liberation Sans" font-size="17" textLength="59.6" lengthAdjust="spacingAndGlyphs">FAA1 V</text>
<text transform="translate(19.9,249.8) rotate(-90)" font-family="Liberation Sans" font-size="14">m</text>
</svg></body></html>
